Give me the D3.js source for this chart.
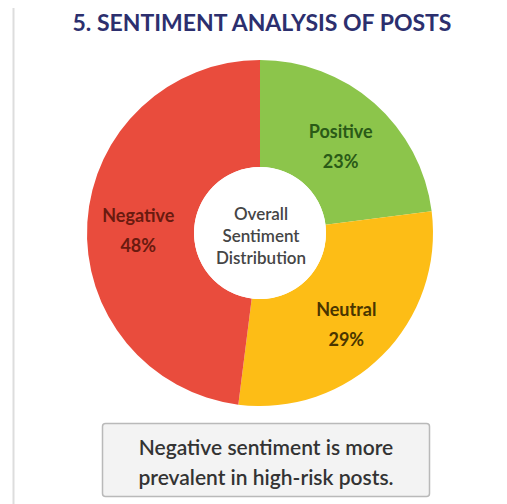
<!DOCTYPE html>
<html>
<head>
<meta charset="utf-8">
<script src="https://cdn.jsdelivr.net/npm/d3@7"></script>
<style>
  html, body { margin: 0; padding: 0; background: #ffffff; }
  svg { display: block; font-family: Lato, "Open Sans", sans-serif; }
</style>
</head>
<body>
<div id="chart"></div>
<script>
// chart data
const categories = ["Positive", "Neutral", "Negative"];
const shares = [23, 29, 48];
const sliceColors = ["#8cc54b", "#fdbd16", "#e94c3d"];
const labelColors = ["#2a5a17", "#4a3500", "#6a1a0f"];
const centerLines = ["Overall", "Sentiment", "Distribution"];
const titleText = "5. SENTIMENT ANALYSIS OF POSTS";
const noteLines = ["Negative sentiment is more", "prevalent in high-risk posts."];

const width = 507, height = 504;
const cx = 260, cy = 233;
const outerR = 173, innerR = 66;

const svg = d3.select("#chart").append("svg")
    .attr("width", width)
    .attr("height", height);

// faint card edge on the left
svg.append("line")
    .attr("x1", 13.5).attr("x2", 13.5)
    .attr("y1", 8).attr("y2", height)
    .style("stroke", "#dddddd")
    .style("stroke-width", "2px");

// title
svg.append("text")
    .attr("x", 262)
    .attr("y", 31)
    .attr("text-anchor", "middle")
    .style("font-size", "23px")
    .style("font-weight", "700")
    .style("fill", "#2c2f6e")
    .text(titleText);

const data = categories.map((c, i) => ({name: c, value: shares[i], color: sliceColors[i], label: labelColors[i]}));

const pie = d3.pie()
    .value(d => d.value)
    .sort(null);

const arc = d3.arc()
    .innerRadius(innerR)
    .outerRadius(outerR);

const labelArc = d3.arc()
    .innerRadius(122)
    .outerRadius(122);

const g = svg.append("g")
    .attr("transform", `translate(${cx},${cy})`);

const arcs = pie(data);

g.selectAll("path.slice")
    .data(arcs)
    .enter().append("path")
    .attr("class", "slice")
    .attr("d", arc)
    .style("fill", d => d.data.color);

// slice labels
const labels = g.selectAll("g.slice-label")
    .data(arcs)
    .enter().append("g")
    .attr("class", "slice-label")
    .attr("transform", d => `translate(${labelArc.centroid(d)})`);

labels.append("text")
    .attr("text-anchor", "middle")
    .attr("y", -3)
    .style("font-size", "18px")
    .style("font-weight", "700")
    .style("fill", d => d.data.label)
    .text(d => d.data.name);

labels.append("text")
    .attr("text-anchor", "middle")
    .attr("y", 27)
    .style("font-size", "18px")
    .style("font-weight", "700")
    .style("fill", d => d.data.label)
    .text(d => d.data.value + "%");

// centre caption
g.append("circle")
    .attr("r", innerR)
    .style("fill", "#ffffff");

g.selectAll("text.center")
    .data(centerLines)
    .enter().append("text")
    .attr("class", "center")
    .attr("text-anchor", "middle")
    .attr("x", 1)
    .attr("y", (d, i) => -13 + i * 22)
    .style("font-size", "17px")
    .style("font-weight", "600")
    .style("fill", "#454545")
    .text(d => d);

// note box
svg.append("rect")
    .attr("x", 102.5)
    .attr("y", 423.5)
    .attr("width", 327)
    .attr("height", 73)
    .attr("rx", 3)
    .style("fill", "#f3f3f3")
    .style("stroke", "#b9b9b9")
    .style("stroke-width", "1.5px");

svg.selectAll("text.note")
    .data(noteLines)
    .enter().append("text")
    .attr("class", "note")
    .attr("text-anchor", "middle")
    .attr("x", 266)
    .attr("y", (d, i) => 455 + i * 30)
    .style("font-size", "21px")
    .style("font-weight", "600")
    .style("fill", "#333333")
    .text(d => d);
</script>
</body>
</html>
